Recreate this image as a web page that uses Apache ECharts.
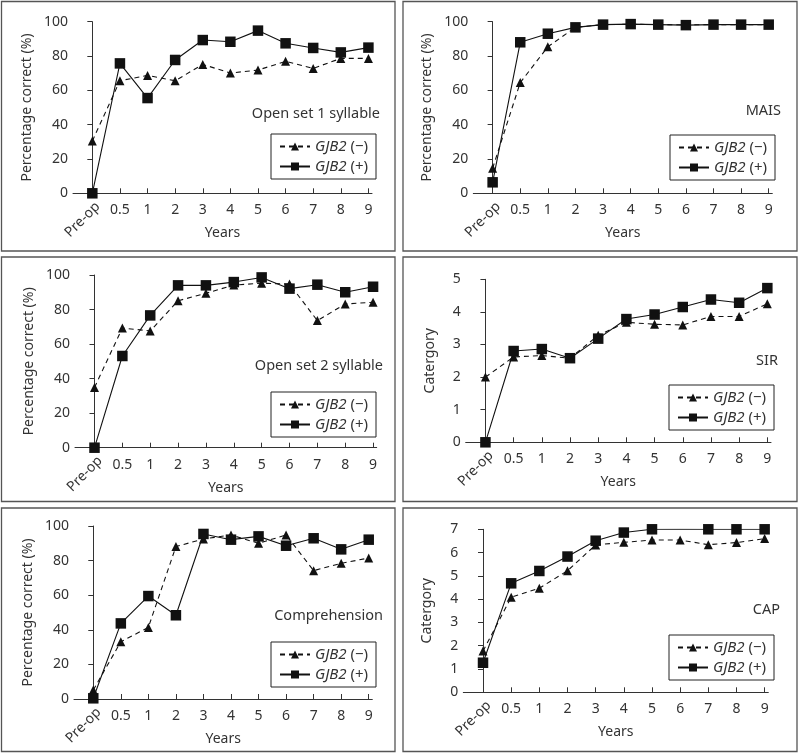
<!DOCTYPE html>
<html>
<head>
<meta charset="utf-8">
<script src="https://cdn.jsdelivr.net/npm/echarts@6/dist/echarts.min.js"></script>
<style>
html,body{margin:0;padding:0;background:#fff;}
#c{width:800px;height:756px;}
</style>
</head>
<body>
<div id="c"></div>
<script>
// ---- data ----
const categories = ['Pre-op', '0.5', '1', '2', '3', '4', '5', '6', '7', '8', '9'];
const seriesNames = ['GJB2 (\u2212)', 'GJB2 (+)'];

const open1Neg = [30.5, 65.6, 68.7, 65.6, 75.1, 70.1, 71.8, 76.9, 72.8, 78.6, 78.6];
const open1Pos = [0, 75.7, 55.5, 77.7, 89.3, 88.3, 94.8, 87.4, 84.7, 82.1, 84.9];
const maisNeg = [14.6, 64.5, 85.4, 96.7, 98.3, 98.5, 98.3, 98.2, 98.3, 98.3, 98.3];
const maisPos = [6.4, 88, 93, 96.7, 98.3, 98.6, 98.3, 98, 98.3, 98.3, 98.3];
const open2Neg = [34.9, 69.3, 67.6, 85.1, 89.4, 94.2, 95.2, 94.8, 73.6, 83.2, 84.2];
const open2Pos = [0, 53.1, 76.6, 94, 94, 95.9, 98.6, 92.1, 94.4, 90, 93.2];
const sirNeg = [2.0, 2.62, 2.66, 2.58, 3.28, 3.68, 3.62, 3.6, 3.86, 3.86, 4.25];
const sirPos = [0, 2.8, 2.86, 2.58, 3.18, 3.78, 3.92, 4.15, 4.38, 4.28, 4.73];
const compNeg = [5.2, 33.1, 41.4, 88.1, 92.5, 94.8, 90, 94.8, 74.2, 78.4, 81.5];
const compPos = [0.4, 43.7, 59.5, 48.4, 95.4, 92.1, 94, 88.6, 92.9, 86.5, 92.1];
const capNeg = [1.77, 4.08, 4.47, 5.22, 6.33, 6.44, 6.54, 6.54, 6.34, 6.43, 6.6];
const capPos = [1.27, 4.68, 5.21, 5.83, 6.51, 6.86, 7.0, 7.01, 7.0, 7.0, 7.0];

const panelLabels = ['Open set 1 syllable', 'MAIS', 'Open set 2 syllable', 'SIR', 'Comprehension', 'CAP'];
const yNames = ['Percentage correct (%)', 'Percentage correct (%)', 'Percentage correct (%)', 'Catergory', 'Percentage correct (%)', 'Catergory'];
const negData = [open1Neg, maisNeg, open2Neg, sirNeg, compNeg, capNeg];
const posData = [open1Pos, maisPos, open2Pos, sirPos, compPos, capPos];
const yMax = [100, 100, 100, 5, 100, 7];
const yInterval = [20, 20, 20, 1, 20, 1];

// ---- layout ----
const layout = [
  {box: [1.5, 1.5, 393.5, 249.5], grid: [73, 21.7, 299, 171.6], label: [380, 116], legend: [271, 134], yGap: 39},
  {box: [403, 1.5, 394, 249.5], grid: [473.3, 21.7, 299, 171.6], label: [781, 113], legend: [670, 135], yGap: 39},
  {box: [1.5, 257, 393.5, 244.5], grid: [75, 275, 301.7, 172.7], label: [383, 368], legend: [271, 392], yGap: 39},
  {box: [403, 257, 394, 244.5], grid: [465.7, 279.3, 305.3, 163], label: [778, 363], legend: [669, 385], yGap: 29},
  {box: [1.5, 508, 393.5, 243.5], grid: [74, 526, 298.3, 173], label: [383, 618], legend: [271, 642], yGap: 39},
  {box: [403, 508, 394, 243.5], grid: [463.3, 529.3, 305, 163], label: [780, 612], legend: [669, 635], yGap: 29}
];

const FONT = 'Noto Sans';
const TXT = '#333';
const X_MIN = -0.7, X_MAX = 10.13;
const LBL_SHIFT = 0.2;
const idx = categories.map((c, i) => i);

const grids = [], xAxes = [], yAxes = [], series = [], legends = [], titles = [], graphics = [];

layout.forEach((L, p) => {
  grids.push({left: L.grid[0], top: L.grid[1], width: L.grid[2], height: L.grid[3]});
  graphics.push({type: 'rect', shape: {x: L.box[0], y: L.box[1], width: L.box[2], height: L.box[3]},
    style: {fill: 'none', stroke: '#555', lineWidth: 1.3}, silent: true});
  // main x axis
  xAxes.push({
    type: 'value', gridIndex: p, position: 'bottom', min: X_MIN, max: X_MAX,
    name: 'Years', nameLocation: 'middle', nameGap: 33,
    nameTextStyle: {fontFamily: FONT, fontSize: 14, color: TXT},
    axisLine: {show: true, lineStyle: {color: '#333', width: 1}},
    axisTick: {show: true, inside: true, length: 5, customValues: idx, lineStyle: {color: '#333'}},
    axisLabel: {customValues: idx.slice(1), formatter: v => categories[Math.round(v)],
      fontFamily: FONT, fontSize: 14, color: TXT, margin: 10},
    splitLine: {show: false}
  });
  // second x axis for rotated Pre-op label
  xAxes.push({
    type: 'value', gridIndex: p, position: 'bottom', min: X_MIN - LBL_SHIFT, max: X_MAX - LBL_SHIFT,
    axisLine: {show: false}, axisTick: {show: false}, splitLine: {show: false},
    axisLabel: {customValues: [0], formatter: v => categories[Math.round(v)], rotate: 45,
      fontFamily: FONT, fontSize: 14, color: TXT, margin: 11}
  });
  yAxes.push({
    type: 'value', gridIndex: p, min: 0, max: yMax[p], interval: yInterval[p],
    name: yNames[p], nameLocation: 'middle', nameGap: L.yGap,
    nameTextStyle: {fontFamily: FONT, fontSize: 14, color: TXT},
    axisLine: {show: true, lineStyle: {color: '#333', width: 1}},
    axisTick: {show: true, length: 5, lineStyle: {color: '#333'}},
    axisLabel: {fontFamily: FONT, fontSize: 14, color: TXT, margin: 5},
    splitLine: {show: false}
  });
  const xi = p * 2;
  series.push({
    name: seriesNames[0], type: 'line', xAxisIndex: xi, yAxisIndex: p,
    data: negData[p].map((v, i) => [i, v]),
    symbol: 'triangle', symbolSize: 9, showSymbol: true,
    lineStyle: {color: '#111', width: 1.1, type: [5, 4]},
    itemStyle: {color: '#111'}, animation: false, z: 2
  });
  series.push({
    name: seriesNames[1], type: 'line', xAxisIndex: xi, yAxisIndex: p,
    data: posData[p].map((v, i) => [i, v]),
    symbol: 'rect', symbolSize: 10.5, showSymbol: true,
    lineStyle: {color: '#111', width: 1.1, type: 'solid'},
    itemStyle: {color: '#111'}, animation: false, z: 3
  });
  titles.push({
    text: panelLabels[p], right: 800 - L.label[0], top: L.label[1] - 10, padding: 0,
    textStyle: {fontFamily: FONT, fontSize: 14.5, fontWeight: 'normal', color: TXT}
  });
  legends.push({
    data: seriesNames, orient: 'vertical', left: L.legend[0], top: L.legend[1],
    padding: [5, 8, 5, 8], itemGap: 5, itemWidth: 30, itemHeight: 10,
    borderColor: '#222', borderWidth: 1, selectedMode: false,
    formatter: n => '{i|GJB2} ' + n.slice(5),
    textStyle: {fontFamily: FONT, fontSize: 15, color: TXT,
      rich: {i: {fontFamily: FONT, fontSize: 15, fontStyle: 'italic', color: TXT}}}
  });
});

const chart = echarts.init(document.getElementById('c'), null, {renderer: 'canvas'});
chart.setOption({
  animation: false,
  backgroundColor: '#fff',
  grid: grids, xAxis: xAxes, yAxis: yAxes, series: series,
  legend: legends, title: titles, graphic: graphics
});
</script>
</body>
</html>
